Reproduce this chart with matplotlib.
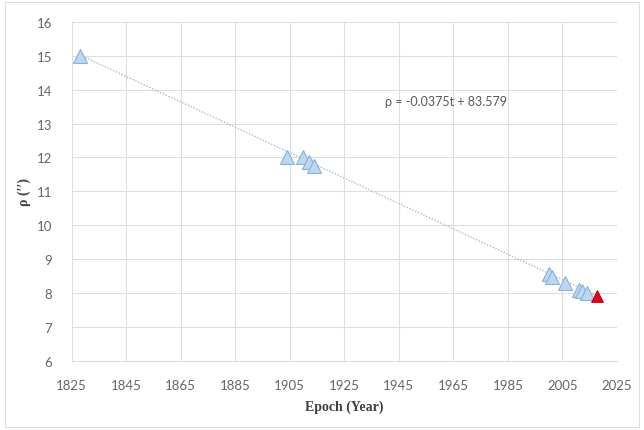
import numpy as np
import matplotlib.pyplot as plt
from matplotlib.patches import Rectangle

# 观测数据 (epoch, rho)
epochs = [1828, 1904, 1910, 1912, 1914, 2000, 2001, 2006, 2011, 2012, 2014]
rho = [15.0, 12.0, 12.0, 11.88, 11.75, 8.55, 8.47, 8.3, 8.1, 8.05, 8.0]
new_epoch = [2017.6]
new_rho = [7.92]

# 线性拟合参数
slope = -0.0375
intercept = 83.579
fit_range = [1828, 2017.6]

x_ticks = list(range(1825, 2026, 20))
y_ticks = list(range(6, 17))

TICK_FONT = ["Lato", "DejaVu Sans"]
LABEL_FONT = ["Liberation Serif", "DejaVu Serif"]
GRID_C = "#DEDEDE"

fig = plt.figure(figsize=(6.44, 4.31), dpi=100)
fig.patches.append(Rectangle((0.008, 0.008), 0.984, 0.984, transform=fig.transFigure,
                             fill=False, edgecolor=GRID_C, linewidth=0.8))
ax = fig.add_axes([0.1113, 0.1608, 0.8467, 0.7858])

t = np.array(fit_range)
ax.plot(t, slope * t + intercept, linestyle=(0, (1.0, 1.2)), color="#A3BFDD",
        linewidth=1.0, zorder=2)

ax.plot(epochs, rho, linestyle="none", marker="^", markersize=10,
        markerfacecolor="#BDD7EE", markeredgecolor="#86B2DD", markeredgewidth=0.8,
        zorder=3)
ax.plot(new_epoch, new_rho, linestyle="none", marker="^", markersize=9,
        markerfacecolor="#E3001B", markeredgecolor="#C00018", markeredgewidth=0.6,
        zorder=4)

ax.text(1940, 13.67, "ρ = -0.0375t + 83.579", fontsize=9, color="#595959",
        family=TICK_FONT, va="center", ha="left")

ax.set_xlim(1825, 2025)
ax.set_ylim(6, 16)
ax.set_xticks(x_ticks)
ax.set_yticks(y_ticks)
ax.grid(True, color=GRID_C, linewidth=0.8)
ax.set_axisbelow(True)
for side in ["top", "right", "left"]:
    ax.spines[side].set_visible(False)
ax.spines["bottom"].set_color(GRID_C)
ax.tick_params(length=0, labelsize=9.5, labelcolor="#666666")
ax.tick_params(axis="y", pad=14)
ax.tick_params(axis="x", pad=13)
for lbl in ax.get_xticklabels() + ax.get_yticklabels():
    lbl.set_family(TICK_FONT)

ax.set_xlabel("Epoch (Year)", fontsize=10, fontweight="bold", family=LABEL_FONT,
              color="#404040", labelpad=6)
ax.set_ylabel("ρ (′′)", fontsize=10, fontweight="bold", family=LABEL_FONT,
              color="#404040", labelpad=4)

fig.savefig("out.png", dpi=100)
